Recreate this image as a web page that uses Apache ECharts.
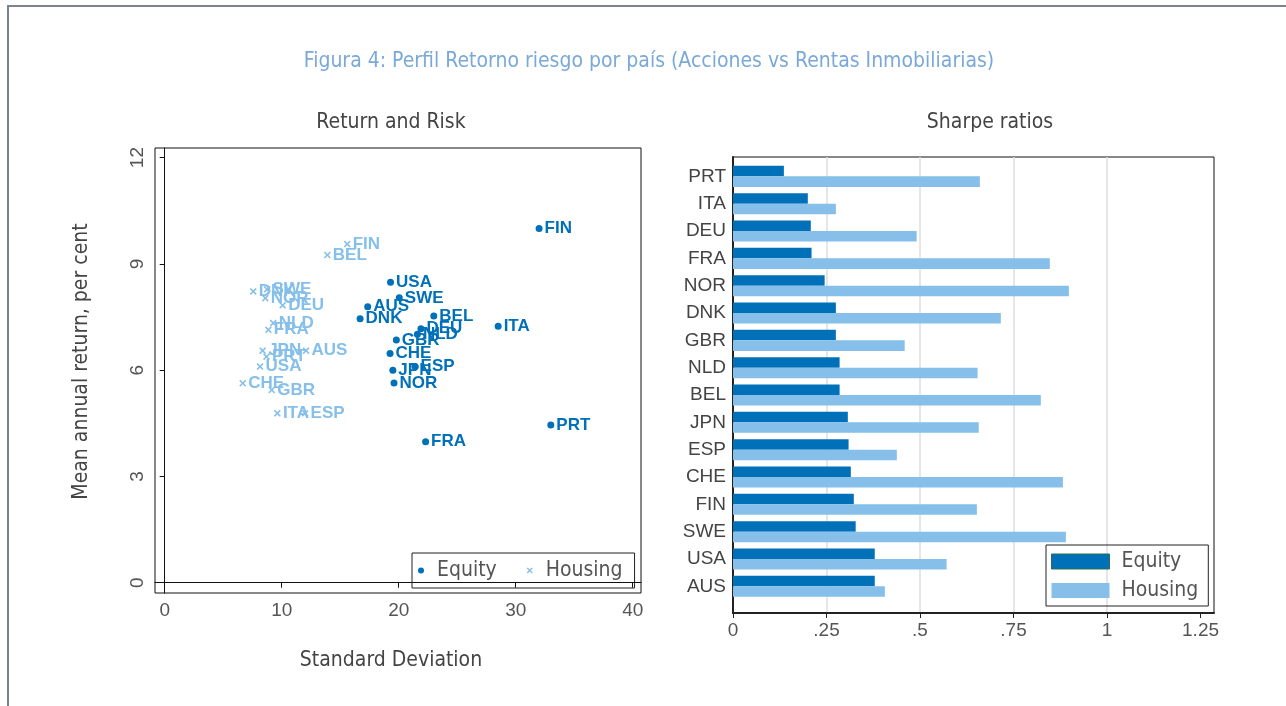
<!DOCTYPE html>
<html>
<head>
<meta charset="utf-8">
<title>Figura 4</title>
<script src="https://cdn.jsdelivr.net/npm/echarts@6/dist/echarts.min.js"></script>
<style>
    html, body { margin: 0; padding: 0; background: #fff; overflow: hidden; }
    #frame {
        position: absolute; left: 7px; top: 5px; width: 1300px; height: 720px;
        border-left: 2px solid #7d838d; border-top: 2px solid #7d838d;
    }
    #chart { position: absolute; left: 0; top: 0; width: 1286px; height: 706px; }
</style>
</head>
<body>
<div id="frame"></div>
<div id="chart"></div>
<script>
// scatter: standard deviation / mean annual return per country
var countries   = ['AUS','BEL','CHE','DEU','DNK','ESP','FIN','FRA','GBR','ITA','JPN','NLD','NOR','PRT','SWE','USA'];
var equitySD    = [17.35, 23.0, 19.26, 21.9, 16.7, 21.4, 32.0, 22.3, 19.8, 28.5, 19.5, 21.6, 19.6, 33.0, 20.05, 19.3];
var equityMean  = [7.79, 7.53, 6.47, 7.17, 7.45, 6.1, 10.0, 3.98, 6.85, 7.24, 6.0, 7.01, 5.64, 4.45, 8.04, 8.48];
var housingSD   = [12.08, 13.9, 6.67, 10.08, 7.57, 12.0, 15.6, 8.86, 9.15, 9.63, 8.37, 9.28, 8.6, 8.7, 8.75, 8.15];
var housingMean = [6.55, 9.25, 5.63, 7.83, 8.22, 4.78, 9.56, 7.14, 5.44, 4.78, 6.55, 7.33, 8.03, 6.38, 8.28, 6.1];

// bars: sharpe ratios, top to bottom
var sharpeCountries = ['PRT','ITA','DEU','FRA','NOR','DNK','GBR','NLD','BEL','JPN','ESP','CHE','FIN','SWE','USA','AUS'];
var equitySharpe  = [0.136, 0.200, 0.208, 0.210, 0.245, 0.275, 0.275, 0.285, 0.285, 0.307, 0.309, 0.315, 0.323, 0.328, 0.379, 0.379];
var housingSharpe = [0.660, 0.275, 0.491, 0.847, 0.898, 0.716, 0.459, 0.654, 0.823, 0.657, 0.438, 0.882, 0.652, 0.890, 0.571, 0.406];

var scatterTicks = [0, 10, 20, 30, 40];
var returnTicks  = [0, 3, 6, 9, 12];

var EQ = '#0070b8';
var HO = '#85bfea';
var NARROW = '"Liberation Sans Narrow", "DejaVu Sans Condensed", sans-serif';
var SANS = 'Arial, "Liberation Sans", sans-serif';
var XMARK = 'path://M0,1.6 L1.6,0 L5,3.4 L8.4,0 L10,1.6 L6.6,5 L10,8.4 L8.4,10 L5,6.6 L1.6,10 L0,8.4 L3.4,5 Z';

function points(xs, ys) {
    var out = [];
    for (var i = 0; i < countries.length; i++) {
        out.push({ name: countries[i], value: [xs[i], ys[i]] });
    }
    return out;
}

function sharpeLabel(v) {
    var s = String(v);
    return s.indexOf('0.') === 0 ? s.slice(1) : s;
}

var chart = echarts.init(document.getElementById('chart'));

var option = {
    animation: false,
    title: [
        { text: 'Figura 4: Perfil Retorno riesgo por país (Acciones vs Rentas Inmobiliarias)',
          left: 649, top: 51, padding: 0, textAlign: 'center',
          textStyle: { color: '#7aa9d9', fontSize: 21, fontWeight: 'normal', fontFamily: NARROW } },
        { text: 'Return and Risk', left: 391, top: 112, padding: 0, textAlign: 'center',
          textStyle: { color: '#444', fontSize: 21, fontWeight: 'normal', fontFamily: NARROW } },
        { text: 'Sharpe ratios', left: 990, top: 112, padding: 0, textAlign: 'center',
          textStyle: { color: '#444', fontSize: 21, fontWeight: 'normal', fontFamily: NARROW } }
    ],
    legend: [
        {
            left: 412, top: 553, orient: 'horizontal',
            padding: [7, 12, 7, 6], itemGap: 30,
            itemWidth: 8, itemHeight: 6,
            borderColor: '#222', borderWidth: 1,
            textStyle: { color: '#555', fontSize: 21, fontFamily: NARROW, padding: [0, 0, 0, 7] },
            data: [{ name: 'Equity', icon: 'circle', itemStyle: { color: EQ, opacity: 1 } },
                   { name: 'Housing', icon: XMARK, itemStyle: { color: HO, opacity: 1 } }]
        },
        {
            left: 1046, top: 545, orient: 'vertical',
            padding: [6, 10, 5, 5], itemGap: 8,
            itemWidth: 58, itemHeight: 15,
            borderColor: '#222', borderWidth: 1,
            textStyle: { color: '#555', fontSize: 21, fontFamily: NARROW, padding: [0, 0, 0, 7] },
            data: [{ name: 'Equity', icon: 'rect', itemStyle: { color: EQ, opacity: 1, borderColor: '#2f6e52', borderWidth: 1 } },
                   { name: 'Housing', icon: 'rect', itemStyle: { color: HO, opacity: 1 } }]
        }
    ],
    grid: [
        { left: 155, top: 148, width: 486, height: 445, show: true, borderColor: '#111', borderWidth: 1 },
        { left: 733, top: 157, width: 481, height: 456, show: true, borderColor: '#111', borderWidth: 1 },
        { left: 733, top: 162.7, width: 481, height: 437.3 }
    ],
    xAxis: [
        {
            gridIndex: 0, type: 'value', min: -0.83, max: 40.71,
            name: 'Standard Deviation', nameLocation: 'middle', nameGap: 57,
            nameTextStyle: { color: '#444', fontSize: 21, fontFamily: NARROW, padding: [0, 14, 0, 0] },
            axisLine: { show: true, lineStyle: { color: '#111', width: 1 } },
            axisTick: { show: true, length: 5, customValues: scatterTicks, lineStyle: { color: '#111' } },
            axisLabel: { customValues: scatterTicks, color: '#555', fontSize: 19, fontFamily: SANS, margin: 8 },
            splitLine: { show: false }
        },
        {
            gridIndex: 1, type: 'value', min: 0, max: 1.286, interval: 0.25,
            axisLine: { show: true, lineStyle: { color: '#222', width: 2 } },
            axisTick: { show: true, length: 5, lineStyle: { color: '#222' } },
            axisLabel: { color: '#555', fontSize: 19, fontFamily: SANS, margin: 8, showMaxLabel: false,
                         formatter: sharpeLabel },
            splitLine: { show: true, lineStyle: { width: 1.5,
                color: ['rgba(0,0,0,0)', '#dedede', '#dedede', '#dedede', '#dedede', 'rgba(0,0,0,0)'] } }
        },
        {
            gridIndex: 2, type: 'value', min: 0, max: 1.286,
            axisLine: { show: false }, axisTick: { show: false }, axisLabel: { show: false },
            splitLine: { show: false }
        }
    ],
    yAxis: [
        {
            gridIndex: 0, type: 'value', min: -0.29, max: 12.27,
            name: 'Mean annual return, per cent', nameLocation: 'middle', nameGap: 63,
            nameTextStyle: { color: '#444', fontSize: 21, fontFamily: NARROW, padding: [0, 0, 0, 18] },
            axisLine: { show: true, lineStyle: { color: '#111', width: 1 } },
            axisTick: { show: true, length: 5, customValues: returnTicks, lineStyle: { color: '#111' } },
            axisLabel: { customValues: returnTicks, rotate: 90, color: '#555', fontSize: 19, fontFamily: SANS, margin: 8 },
            splitLine: { show: false }
        },
        {
            gridIndex: 1, type: 'value', min: 0, max: 1,
            axisLine: { show: true, lineStyle: { color: '#222', width: 2 } },
            axisTick: { show: false }, axisLabel: { show: false }, splitLine: { show: false }
        },
        {
            gridIndex: 2, type: 'category', inverse: true, data: sharpeCountries,
            axisLine: { show: false }, axisTick: { show: false },
            axisLabel: { color: '#444', fontSize: 19, fontFamily: SANS, margin: 7 }
        }
    ],
    series: [
        {
            name: 'Equity', type: 'scatter', xAxisIndex: 0, yAxisIndex: 0,
            symbol: 'circle', symbolSize: 7, itemStyle: { color: EQ, opacity: 1 },
            label: { show: true, position: 'right', distance: 2, formatter: '{b}',
                     color: EQ, fontSize: 17, fontWeight: 'bold', fontFamily: SANS },
            data: points(equitySD, equityMean), z: 3
        },
        {
            name: 'Housing', type: 'scatter', xAxisIndex: 0, yAxisIndex: 0,
            symbol: XMARK, symbolSize: 7, itemStyle: { color: HO, opacity: 1 },
            label: { show: true, position: 'right', distance: 2, formatter: '{b}',
                     color: HO, fontSize: 17, fontWeight: 'bold', fontFamily: SANS },
            data: points(housingSD, housingMean), z: 2
        },
        {
            name: 'Equity', type: 'bar', xAxisIndex: 2, yAxisIndex: 2,
            barGap: 0, barCategoryGap: '23%', itemStyle: { color: EQ },
            data: equitySharpe
        },
        {
            name: 'Housing', type: 'bar', xAxisIndex: 2, yAxisIndex: 2,
            barGap: 0, barCategoryGap: '23%', itemStyle: { color: HO },
            data: housingSharpe
        }
    ]
};

chart.setOption(option);
</script>
</body>
</html>
